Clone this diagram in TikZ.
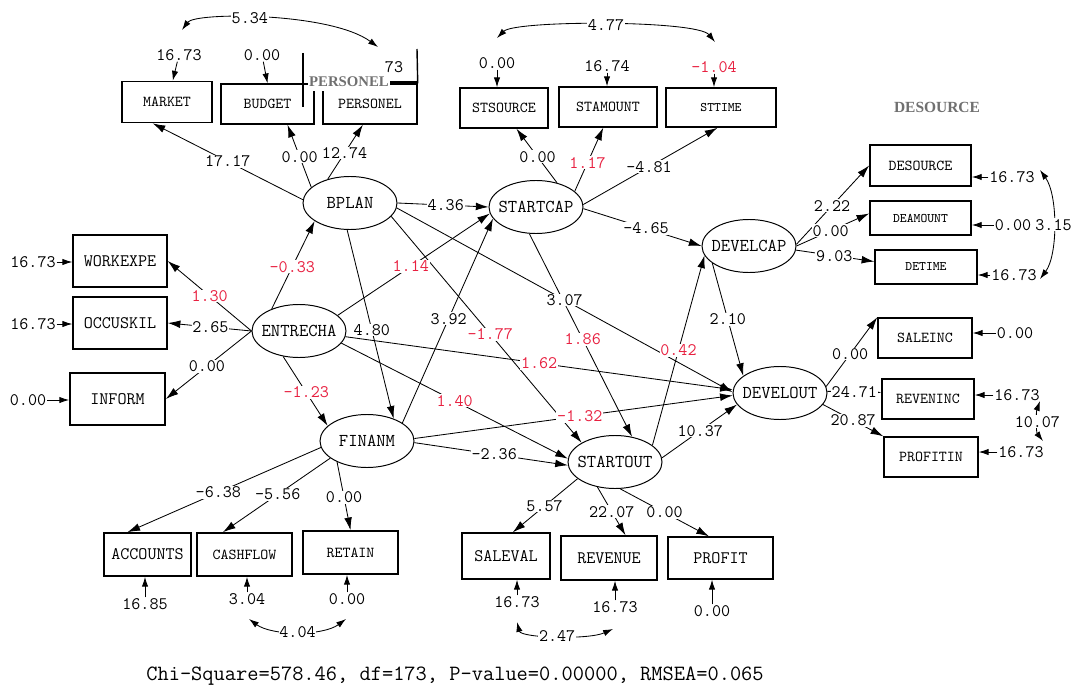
\documentclass[tikz,border=0pt]{standalone}
\usepackage{fontspec}
\usepackage{xcolor}
\usepackage{tikz}
\usetikzlibrary{shapes.geometric, arrows.meta}
\definecolor{lisred}{RGB}{232,32,64}
\definecolor{lisgray}{RGB}{112,112,112}
\newfontfamily\grayserif{Liberation Serif}

\begin{document}
\begin{tikzpicture}[x=0.025cm, y=-0.025cm]
\tikzstyle{latent} = [ellipse, draw, line width=0.7pt, minimum width=2.35cm, minimum height=1.325cm, inner xsep=-3.5pt, font=\ttfamily\fontsize{12.9}{12.9}\selectfont]
\tikzstyle{observed} = [rectangle, draw, line width=1pt, inner sep=0pt, font=\ttfamily\fontsize{10.8}{10.8}\selectfont]
\tikzstyle{obsbig} = [observed, font=\ttfamily\fontsize{12.5}{12.5}\selectfont]
\tikzstyle{obssmall} = [observed, font=\ttfamily\fontsize{9.3}{9.3}\selectfont]
\tikzstyle{estim} = [fill=white, inner sep=0.6pt, font=\ttfamily\fontsize{12.5}{12.5}\selectfont]
\tikzstyle{estred} = [estim, text=lisred]
\tikzstyle{link} = [line width=0.6pt, -{Latex[length=9pt,width=5.5pt]}]
\tikzstyle{errlink} = [line width=0.6pt, -{Latex[length=7pt,width=4.5pt]}]
\tikzstyle{corr} = [line width=0.6pt, {Latex[length=7pt,width=4.5pt]}-{Latex[length=7pt,width=4.5pt]}]
\tikzstyle{graytxt} = [fill=white, inner xsep=1pt, inner ysep=3pt, text=lisgray, font=\grayserif\bfseries\fontsize{10.5}{10.5}\selectfont]
\useasboundingbox (0,0) rectangle (1078,689);

% latent variables
\node (BPLAN) [latent] at (350,203) {BPLAN};
\node (STARTCAP) [latent] at (536,207) {STARTCAP};
\node (ENTRECHA) [latent] at (299,331) {ENTRECHA};
\node (FINANM) [latent] at (367,441) {FINANM};
\node (STARTOUT) [latent] at (615,462) {STARTOUT};
\node (DEVELCAP) [latent] at (749,246) {DEVELCAP};
\node (DEVELOUT) [latent] at (780,393) {DEVELOUT};

% indicators
\node (MARKET) [observed, minimum width=2.25cm, minimum height=1.03cm] at (167,102) {MARKET};
\node (BUDGET) [observed, minimum width=2.33cm, minimum height=1cm] at (267.5,104) {BUDGET};
\node (PERSONEL) [observed, minimum width=2.35cm, minimum height=1cm] at (370,104) {PERSONEL};
\node (STSOURCE) [observed, minimum width=2.2cm, minimum height=1cm] at (504,108) {STSOURCE};
\node (STAMOUNT) [observed, minimum width=2.45cm, minimum height=1cm] at (608,107) {STAMOUNT};
\node (STTIME) [obssmall, minimum width=2.75cm, minimum height=0.98cm] at (721,107.5) {STTIME};
\node (DESOURCE) [observed, minimum width=2.53cm, minimum height=1.03cm] at (920.5,165.5) {DESOURCE};
\node (DEAMOUNT) [obssmall, minimum width=2.53cm, minimum height=0.85cm] at (920.5,218) {DEAMOUNT};
\node (DETIME) [obssmall, minimum width=2.55cm, minimum height=0.85cm] at (926,267) {DETIME};
\node (WORKEXPE) [obsbig, minimum width=2.35cm, minimum height=1.3cm] at (120,261) {WORKEXPE};
\node (OCCUSKIL) [obsbig, minimum width=2.35cm, minimum height=1.3cm] at (120,323) {OCCUSKIL};
\node (INFORM) [obsbig, minimum width=2.38cm, minimum height=1.3cm] at (117.5,399) {INFORM};
\node (SALEINC) [observed, minimum width=2.35cm, minimum height=1cm] at (925,338) {SALEINC};
\node (REVENINC) [observed, minimum width=2.3cm, minimum height=1cm] at (928,399) {REVENINC};
\node (PROFITIN) [observed, minimum width=2.35cm, minimum height=1cm] at (931,457) {PROFITIN};
\node (ACCOUNTS) [obsbig, minimum width=2.18cm, minimum height=1.08cm] at (147.5,554.5) {ACCOUNTS};
\node (CASHFLOW) [observed, minimum width=2.38cm, minimum height=1.08cm] at (244.5,554.5) {CASHFLOW};
\node (RETAIN) [observed, minimum width=2.38cm, minimum height=1.08cm] at (350.5,552.5) {RETAIN};
\node (SALEVAL) [obsbig, minimum width=2.2cm, minimum height=1.15cm] at (506,556) {SALEVAL};
\node (REVENUE) [obsbig, minimum width=2.4cm, minimum height=1.1cm] at (609,558) {REVENUE};
\node (PROFIT) [obsbig, minimum width=2.63cm, minimum height=1.05cm] at (720.5,558) {PROFIT};

\draw [line width=1pt] (303,53) -- (303,107);
\draw [line width=1pt] (PERSONEL.north east) -- (417,49);
\draw [line width=1pt] (388,82) -- (417,82);
\node (tPERSONEL) [graytxt] at (349,82) {PERSONEL};
\node (tDESOURCE) [graytxt, font=\grayserif\bfseries\fontsize{11}{11}\selectfont] at (937,107) {DESOURCE};

% structural paths
\draw [link] (STARTCAP.-104) -- node[estred, pos=0.52] {1.86} (STARTOUT.56);
\draw [link] (BPLAN.-18) -- node[estred, pos=0.52] {-1.77} (STARTOUT.150);
\draw [link] (BPLAN.-6) -- node[estim, pos=0.5] {3.07} (DEVELOUT.179);
\draw [link] (ENTRECHA.141) -- node[estred, pos=0.48] {-0.33} (BPLAN.207);
\draw [link] (ENTRECHA.22) -- node[estred, pos=0.48] {1.14} (STARTCAP.188);
\draw [link] (ENTRECHA.238) -- node[estred, pos=0.52] {-1.23} (FINANM.159);
\draw [link] (ENTRECHA.-7) -- node[estred, pos=0.5] {1.62} (DEVELOUT.176);
\draw [link] (ENTRECHA.-16) -- node[estred, pos=0.5] {1.40} (STARTOUT.176);
\draw [link] (FINANM.-2) -- node[estim, pos=0.52] {-2.36} (STARTOUT.184);
\draw [link] (FINANM.3) -- node[estred, pos=0.52] {-1.32} (DEVELOUT.183);
\draw [link] (FINANM.27) -- node[estim, pos=0.51] {3.92} (STARTCAP.195);
\draw [link] (BPLAN.east) -- node[estim, pos=0.53] {4.36} (STARTCAP.west);
\draw [link] (BPLAN.-96) -- node[estim, pos=0.53] {4.80} (FINANM.40);
\draw [link] (STARTCAP.-2) -- node[estim, pos=0.53] {-4.65} (DEVELCAP.west);
\draw [link] (STARTOUT.24) -- node[estred, pos=0.5] {0.42} (DEVELCAP.192);
\draw [link] (DEVELCAP.205) -- node[estim, pos=0.5] {2.10} (DEVELOUT.155);
\draw [link] (STARTOUT.5) -- node[estim, pos=0.51] {10.37} (DEVELOUT.195);

% loadings
\draw [link] (BPLAN.176) -- node[estim, pos=0.5] {17.17} (MARKET.236);
\draw [link] (BPLAN.158) -- node[estim, pos=0.49] {0.00} (BUDGET.-46);
\draw [link] (BPLAN.133) -- node[estim, pos=0.48] {12.74} (PERSONEL.-109);
\draw [link] (STARTCAP.49) -- node[estim, pos=0.48] {0.00} (STSOURCE.-59);
\draw [link] (STARTCAP.22) -- node[estred, pos=0.45] {1.17} (STAMOUNT.-103);
\draw [link] (STARTCAP.3) -- node[estim, pos=0.49] {-4.81} (STTIME.-100);
\draw [link] (DEVELCAP.2) -- node[estim, pos=0.49] {2.22} (DESOURCE.west);
\draw [link] (DEVELCAP.0) -- node[estim, pos=0.47] {0.00} (DEAMOUNT.175);
\draw [link] (DEVELCAP.-5) -- node[estim, pos=0.49] {9.03} (DETIME.174);
\draw [link] (ENTRECHA.west) -- node[estred, pos=0.5] {1.30} (WORKEXPE.east);
\draw [link] (ENTRECHA.west) -- node[estim, pos=0.49] {2.65} (OCCUSKIL.east);
\draw [link] (ENTRECHA.west) -- node[estim, pos=0.52] {0.00} (INFORM.east);
\draw [link] (DEVELOUT.8) -- node[estim, pos=0.47] {0.00} (SALEINC.north west);
\draw [link] (DEVELOUT.2) -- node[estim, pos=0.5] {24.71} (REVENINC.172);
\draw [link] (DEVELOUT.-15) -- node[estim, pos=0.5] {20.87} (PROFITIN.north west);
\draw [link] (FINANM.188) -- node[estim, pos=0.53] {-6.38} (ACCOUNTS.132);
\draw [link] (FINANM.205) -- node[estim, pos=0.49] {-5.56} (CASHFLOW.134);
\draw [link] (FINANM.215) -- node[estim, pos=0.52] {0.00} (RETAIN.north);
\draw [link] (STARTOUT.204) -- node[estim, pos=0.51] {5.57} (SALEVAL.74);
\draw [link] (STARTOUT.235) -- node[estim, pos=0.51] {22.07} (REVENUE.54);
\draw [link] (STARTOUT.-79) -- node[estim, pos=0.5] {0.00} (PROFIT.118);

% error variances
\node (eMARKET) [estim] at (179,55) {16.73};
\node (eBUDGET) [estim] at (262,55) {0.00};
\node (ePERSONEL) [estim] at (394,67) {73};
\node (eSTSOURCE) [estim] at (497,63) {0.00};
\node (eSTAMOUNT) [estim] at (607,66) {16.74};
\node (eSTTIME) [estred] at (714,67) {-1.04};
\node (eDESOURCE) [estim] at (1012,177) {16.73};
\node (eDEAMOUNT) [estim] at (1013,225) {0.00};
\node (eDETIME) [estim] at (1014,275) {16.73};
\node (eWORKEXPE) [estim] at (33,262) {16.73};
\node (eOCCUSKIL) [estim] at (33,324) {16.73};
\node (eINFORM) [estim] at (28,400) {0.00};
\node (eSALEINC) [estim] at (1015,333) {0.00};
\node (eREVENINC) [estim] at (1017,395) {16.73};
\node (ePROFITIN) [estim] at (1021,452) {16.73};
\node (eACCOUNTS) [estim] at (145,604) {16.85};
\node (eCASHFLOW) [estim] at (247,599) {3.04};
\node (eRETAIN) [estim] at (347,599) {0.00};
\node (eSALEVAL) [estim] at (517,602) {16.73};
\node (eREVENUE) [estim] at (615,607) {16.73};
\node (ePROFIT) [estim] at (712,611) {0.00};

\draw [errlink] (eMARKET) -- (MARKET.75);
\draw [errlink] (eBUDGET) -- (BUDGET.north);
\draw [errlink] (eSTSOURCE) -- (eSTSOURCE |- STSOURCE.north);
\draw [errlink] (eSTAMOUNT) -- (eSTAMOUNT |- STAMOUNT.north);
\draw [errlink] (eSTTIME) -- (eSTTIME |- STTIME.north);
\draw [errlink] (eDESOURCE) -- (eDESOURCE -| DESOURCE.east);
\draw [errlink] (eDEAMOUNT) -- (eDEAMOUNT -| DEAMOUNT.east);
\draw [errlink] (eDETIME) -- (eDETIME -| DETIME.east);
\draw [errlink] (eWORKEXPE) -- (eWORKEXPE -| WORKEXPE.west);
\draw [errlink] (eOCCUSKIL) -- (eOCCUSKIL -| OCCUSKIL.west);
\draw [errlink] (eINFORM) -- (eINFORM -| INFORM.west);
\draw [errlink] (eSALEINC) -- (eSALEINC -| SALEINC.east);
\draw [errlink] (eREVENINC) -- (eREVENINC -| REVENINC.east);
\draw [errlink] (ePROFITIN) -- (ePROFITIN -| PROFITIN.east);
\draw [errlink] (eACCOUNTS) -- (eACCOUNTS |- ACCOUNTS.south);
\draw [errlink] (eCASHFLOW) -- (eCASHFLOW |- CASHFLOW.south);
\draw [errlink] (eRETAIN) -- (eRETAIN |- RETAIN.south);
\draw [errlink] (eSALEVAL) -- (eSALEVAL |- SALEVAL.south);
\draw [errlink] (eREVENUE) -- (eREVENUE |- REVENUE.south);
\draw [errlink] (ePROFIT) -- (ePROFIT |- PROFIT.south);

% error covariances
\coordinate (cMARKET) at (182,30);
\coordinate (cPERSONEL) at (378,47);
\coordinate (cSTSOURCE) at (497,38);
\coordinate (cSTTIME) at (715,42);
\coordinate (cDESOURCE) at (1040,170);
\coordinate (cDETIME) at (1040,279);
\coordinate (cREVENINC) at (1040,401);
\coordinate (cPROFITIN) at (1043,441);
\coordinate (cCASHFLOW) at (249,619);
\coordinate (cRETAIN) at (346,619);
\coordinate (cSALEVAL) at (517,622);
\coordinate (cREVENUE) at (613,629);
\draw [corr] (cMARKET) .. controls (195,12) and (330,12) .. node[estim, pos=0.43] {5.34} (cPERSONEL);
\draw [corr] (cSTSOURCE) .. controls (515,20) and (697,20) .. node[estim, pos=0.5] {4.77} (cSTTIME);
\draw [corr] (cDESOURCE) .. controls (1058,195) and (1058,255) .. node[estim, pos=0.5] {3.15} (cDETIME);
\draw [corr] (cREVENINC) .. controls (1036,412) and (1036,432) .. node[estim, pos=0.5] {10.07} (cPROFITIN);
\draw [corr] (cCASHFLOW) .. controls (272,636) and (323,636) .. node[estim, pos=0.5] {4.04} (cRETAIN);
\draw [corr] (cSALEVAL) .. controls (521,638) and (588,640) .. node[estim, pos=0.5] {2.47} (cREVENUE);

\node (fit) [font=\ttfamily\fontsize{15.5}{15.5}\selectfont] at (455,676) {Chi-Square=578.46, df=173, P-value=0.00000, RMSEA=0.065};

\end{tikzpicture}
\end{document}
